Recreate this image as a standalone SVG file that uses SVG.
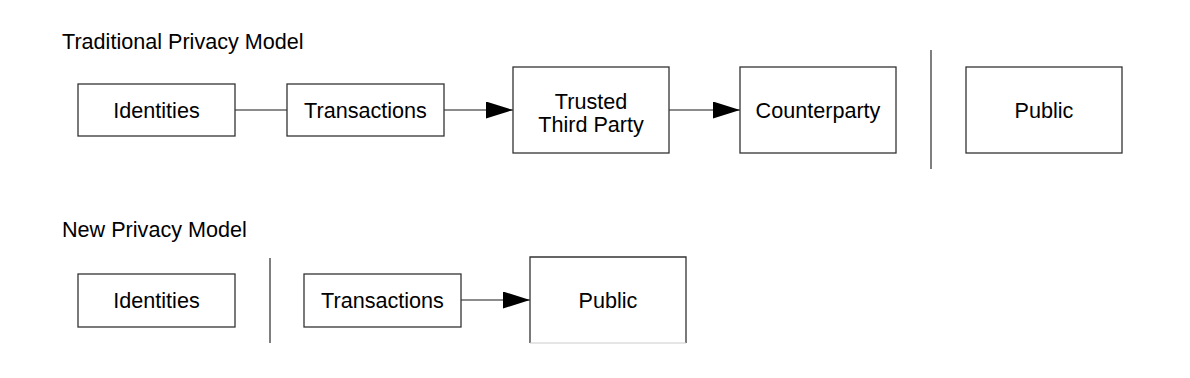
<svg xmlns="http://www.w3.org/2000/svg" width="1190" height="378" viewBox="0 0 1190 378">
<style>
  .box { fill: #ffffff; stroke: #333333; stroke-width: 1.3; }
  .lbl { font-family: "Liberation Sans", Arial, Helvetica, sans-serif; font-size: 21.6px; fill: #000000; text-anchor: middle; }
  .title { font-family: "Liberation Sans", Arial, Helvetica, sans-serif; font-size: 21.6px; fill: #000000; }
  .conn { stroke: #666666; stroke-width: 1.3; fill: none; }
  .sep { stroke: #555555; stroke-width: 1.5; }
</style>
<defs>
  <marker id="arrow" markerUnits="userSpaceOnUse" markerWidth="27" markerHeight="17" refX="27" refY="8.5" orient="auto">
    <path d="M0,0 L27,8.5 L0,17 Z" fill="#000000"/>
  </marker>
</defs>
<rect width="1190" height="378" fill="#ffffff"/>

<text class="title" x="62" y="49">Traditional Privacy Model</text>
<text class="title" x="62" y="237">New Privacy Model</text>

<g id="connectors">
  <line class="conn" x1="235" y1="110" x2="287" y2="110"/>
  <line class="conn" x1="444" y1="110" x2="513" y2="110" marker-end="url(#arrow)"/>
  <line class="conn" x1="669" y1="110" x2="740" y2="110" marker-end="url(#arrow)"/>
  <line class="conn" x1="461" y1="300" x2="530" y2="300" marker-end="url(#arrow)"/>
  <line class="sep" x1="931" y1="50" x2="931" y2="169"/>
  <line class="sep" x1="270" y1="258" x2="270" y2="343"/>
</g>

<g id="t-identities">
  <rect class="box" x="78" y="84" width="157" height="52"/>
  <text class="lbl" x="156.5" y="118">Identities</text>
</g>
<g id="t-transactions">
  <rect class="box" x="287" y="84" width="157" height="52"/>
  <text class="lbl" x="365.5" y="118">Transactions</text>
</g>
<g id="t-ttp">
  <rect class="box" x="513" y="67" width="156" height="86"/>
  <text class="lbl" x="591" y="109">Trusted</text>
  <text class="lbl" x="591" y="132">Third Party</text>
</g>
<g id="t-counterparty">
  <rect class="box" x="740" y="67" width="156" height="86"/>
  <text class="lbl" x="818" y="118">Counterparty</text>
</g>
<g id="t-public">
  <rect class="box" x="966" y="67" width="156" height="86"/>
  <text class="lbl" x="1044" y="118">Public</text>
</g>

<g id="n-identities">
  <rect class="box" x="78" y="274" width="157" height="53"/>
  <text class="lbl" x="156.5" y="308">Identities</text>
</g>
<g id="n-transactions">
  <rect class="box" x="304" y="274" width="157" height="53"/>
  <text class="lbl" x="382.5" y="308">Transactions</text>
</g>
<g id="n-public">
  <path d="M530,343 L530,257 L686,257 L686,343" fill="#ffffff" stroke="#333333" stroke-width="1.3"/>
  <line x1="530" y1="343" x2="686" y2="343" stroke="#cccccc" stroke-width="1"/>
  <text class="lbl" x="608" y="308">Public</text>
</g>
</svg>
